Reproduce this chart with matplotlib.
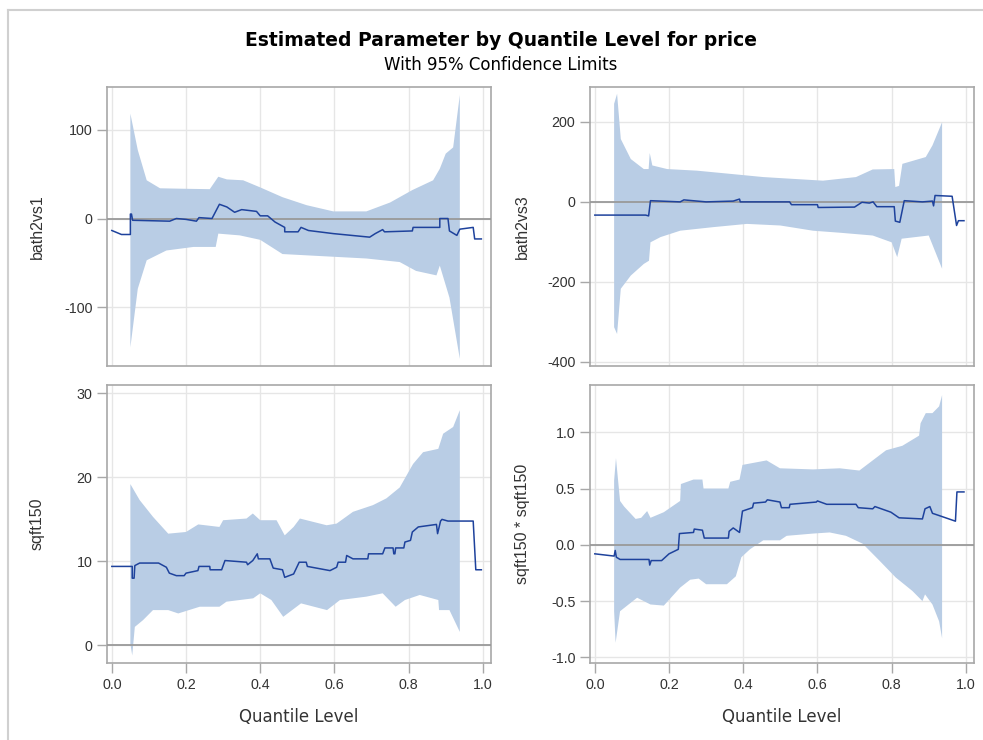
import numpy as np
import matplotlib
matplotlib.use('Agg')
import matplotlib.pyplot as plt
from matplotlib.lines import Line2D
from matplotlib.ticker import FormatStrFormatter

### Quantile process estimates
### est = parameter estimate, up/lo = 95% confidence limits

# bath2vs1
est1_x = [0.0, 0.026, 0.05, 0.05, 0.053, 0.056, 0.156, 0.174, 0.2, 0.228,
          0.235, 0.27, 0.29, 0.31, 0.331, 0.35, 0.39, 0.40, 0.42, 0.44,
          0.466, 0.466, 0.502, 0.51, 0.53, 0.597, 0.695, 0.71, 0.73, 0.735,
          0.81, 0.812, 0.884, 0.884, 0.906, 0.91, 0.93, 0.938, 0.974, 0.978, 0.996]
est1_y = [-13.5, -18, -18, 5, 5, -2, -3, 0, -1, -3,
          1, 0, 16, 13, 7, 10, 8, 3, 3, -4,
          -10, -15, -15, -10, -13.5, -17, -21, -17, -12.5, -15,
          -14, -10, -10, 0, 0, -14, -19, -12, -10, -23, -23]
up1_x = [0.05, 0.07, 0.094, 0.13, 0.192, 0.264, 0.287, 0.31, 0.354, 0.40,
         0.46, 0.525, 0.597, 0.686, 0.75, 0.81, 0.866, 0.884, 0.90, 0.92, 0.938]
up1_y = [118, 77, 43, 34, 33.5, 33, 47, 44, 43, 35,
         24, 15, 8, 8, 18, 32, 43, 56, 73, 80, 139]
lo1_x = [0.05, 0.07, 0.094, 0.147, 0.22, 0.28, 0.287, 0.345, 0.40, 0.46,
         0.55, 0.686, 0.776, 0.82, 0.875, 0.884, 0.91, 0.938]
lo1_y = [-145, -79, -47, -36, -32, -32, -17, -19, -24, -40,
         -42, -45, -49, -59, -64, -53, -89, -158]

# bath2vs3
est2_x = [0.0, 0.137, 0.145, 0.15, 0.23, 0.24, 0.3, 0.373, 0.39, 0.392,
          0.525, 0.53, 0.6, 0.602, 0.70, 0.72, 0.74, 0.75, 0.76, 0.807,
          0.81, 0.822, 0.834, 0.883, 0.91, 0.913, 0.917, 0.963, 0.975, 0.98, 0.995]
est2_y = [-33, -33, -35, 3, 0, 5, 0, 2, 7, 0,
          0, -7, -7, -14, -13, -1, -3, 0, -12, -12,
          -48, -51, 3, 0, 2, -10, 16, 14, -59, -47, -47]
up2_x = [0.052, 0.06, 0.07, 0.097, 0.132, 0.145, 0.148, 0.155, 0.195, 0.275,
         0.365, 0.454, 0.543, 0.615, 0.704, 0.749, 0.807, 0.81, 0.82, 0.829,
         0.892, 0.91, 0.936]
up2_y = [245, 270, 157, 107, 82, 82, 122, 91, 82, 78,
         70, 62, 57, 53, 62, 81, 82, 37, 40, 95,
         112, 141, 199]
lo2_x = [0.052, 0.06, 0.07, 0.097, 0.132, 0.146, 0.15, 0.177, 0.23, 0.32,
         0.41, 0.5, 0.588, 0.66, 0.749, 0.80, 0.815, 0.827, 0.90, 0.936]
lo2_y = [-313, -330, -217, -184, -155, -147, -101, -88, -72, -63,
         -55, -59, -72, -77, -84, -101, -138, -92, -84, -167]

# sqft150
est3_x = [0.0, 0.055, 0.055, 0.06, 0.062, 0.075, 0.126, 0.147, 0.155, 0.174,
          0.195, 0.2, 0.232, 0.235, 0.264, 0.265, 0.296, 0.305, 0.363, 0.366,
          0.38, 0.392, 0.395, 0.426, 0.435, 0.46, 0.466, 0.49, 0.505, 0.524,
          0.527, 0.588, 0.606, 0.61, 0.63, 0.633, 0.65, 0.69, 0.692, 0.73,
          0.736, 0.758, 0.76, 0.763, 0.765, 0.787, 0.79, 0.805, 0.81, 0.826,
          0.875, 0.878, 0.886, 0.89, 0.906, 0.974, 0.981, 0.996]
est3_y = [9.4, 9.4, 8.0, 8.0, 9.5, 9.8, 9.8, 9.3, 8.6, 8.3,
          8.3, 8.6, 8.9, 9.4, 9.4, 9.0, 9.0, 10.1, 9.9, 9.6,
          10.1, 10.9, 10.3, 10.3, 9.2, 9.0, 8.1, 8.5, 9.9, 9.9,
          9.4, 8.9, 9.3, 9.9, 9.9, 10.7, 10.3, 10.3, 10.9, 10.9,
          11.6, 11.6, 10.9, 10.9, 11.6, 11.6, 12.3, 12.5, 13.5, 14.1,
          14.4, 13.3, 14.8, 15.0, 14.8, 14.8, 9.0, 9.0]
up3_x = [0.05, 0.075, 0.111, 0.152, 0.2, 0.233, 0.29, 0.3, 0.363, 0.38,
         0.40, 0.444, 0.466, 0.49, 0.507, 0.579, 0.606, 0.65, 0.704, 0.74,
         0.776, 0.812, 0.839, 0.88, 0.893, 0.92, 0.938]
up3_y = [19.2, 17.3, 15.3, 13.3, 13.5, 14.4, 14.1, 14.9, 15.1, 15.7,
         14.9, 14.9, 13.1, 14.1, 15.1, 14.3, 14.5, 15.9, 16.7, 17.5,
         18.8, 21.6, 23.0, 23.4, 25.2, 26.0, 28.0]
lo3_x = [0.05, 0.055, 0.062, 0.084, 0.111, 0.152, 0.179, 0.237, 0.29, 0.309,
         0.381, 0.40, 0.43, 0.462, 0.51, 0.58, 0.615, 0.686, 0.73, 0.765,
         0.79, 0.83, 0.88, 0.882, 0.91, 0.938]
lo3_y = [0.2, -1.2, 2.2, 3.0, 4.2, 4.2, 3.8, 4.6, 4.6, 5.2,
         5.6, 6.2, 5.4, 3.4, 5.0, 4.2, 5.4, 5.8, 6.2, 4.6,
         5.4, 6.0, 5.4, 4.2, 4.2, 1.6]

# sqft150 * sqft150
est4_x = [0.0, 0.052, 0.055, 0.058, 0.068, 0.146, 0.148, 0.152, 0.18, 0.2,
          0.225, 0.228, 0.266, 0.268, 0.29, 0.295, 0.36, 0.362, 0.373, 0.39,
          0.398, 0.425, 0.428, 0.46, 0.465, 0.499, 0.503, 0.524, 0.526, 0.597,
          0.6, 0.625, 0.704, 0.71, 0.749, 0.755, 0.798, 0.82, 0.883, 0.89,
          0.903, 0.91, 0.928, 0.972, 0.976, 0.995]
est4_y = [-0.08, -0.10, -0.05, -0.11, -0.13, -0.13, -0.18, -0.14, -0.14, -0.08,
          -0.04, 0.10, 0.11, 0.14, 0.13, 0.06, 0.06, 0.12, 0.15, 0.11,
          0.30, 0.33, 0.37, 0.38, 0.40, 0.38, 0.33, 0.33, 0.36, 0.38,
          0.39, 0.36, 0.36, 0.33, 0.32, 0.34, 0.29, 0.24, 0.23, 0.32,
          0.34, 0.28, 0.26, 0.21, 0.47, 0.47]
up4_x = [0.052, 0.057, 0.068, 0.079, 0.11, 0.125, 0.141, 0.15, 0.186, 0.23,
         0.232, 0.266, 0.29, 0.293, 0.36, 0.365, 0.39, 0.398, 0.463, 0.499,
         0.588, 0.66, 0.713, 0.749, 0.785, 0.829, 0.874, 0.878, 0.892, 0.91,
         0.928, 0.936]
up4_y = [0.57, 0.77, 0.39, 0.34, 0.23, 0.24, 0.30, 0.24, 0.29, 0.39,
         0.54, 0.58, 0.58, 0.50, 0.50, 0.56, 0.58, 0.71, 0.75, 0.68,
         0.67, 0.68, 0.66, 0.75, 0.84, 0.88, 0.97, 1.08, 1.17, 1.17,
         1.23, 1.33]
lo4_x = [0.052, 0.056, 0.068, 0.114, 0.15, 0.186, 0.23, 0.257, 0.28, 0.30,
         0.356, 0.38, 0.395, 0.418, 0.454, 0.499, 0.517, 0.588, 0.633, 0.677,
         0.722, 0.767, 0.811, 0.856, 0.883, 0.89, 0.91, 0.928, 0.936]
lo4_y = [-0.59, -0.87, -0.59, -0.47, -0.53, -0.54, -0.38, -0.31, -0.30, -0.35,
         -0.35, -0.28, -0.11, -0.04, 0.04, 0.04, 0.08, 0.10, 0.11, 0.08,
         0.01, -0.14, -0.29, -0.41, -0.50, -0.44, -0.53, -0.68, -0.83]

labels = ['bath2vs1', 'bath2vs3', 'sqft150', 'sqft150 * sqft150']
x_ticks = [0.0, 0.2, 0.4, 0.6, 0.8, 1.0]
y_ticks = [[-100, 0, 100], [-400, -200, 0, 200], [0, 10, 20, 30], [-1.0, -0.5, 0.0, 0.5, 1.0]]
y_lims = [(-166, 148), (-410, 287), (-2.1, 31), (-1.05, 1.42)]

panels = [(est1_x, est1_y, up1_x, up1_y, lo1_x, lo1_y),
          (est2_x, est2_y, up2_x, up2_y, lo2_x, lo2_y),
          (est3_x, est3_y, up3_x, up3_y, lo3_x, lo3_y),
          (est4_x, est4_y, up4_x, up4_y, lo4_x, lo4_y)]

BAND = '#B9CDE5'
LINE = '#1E429C'
SPINE = '#A8A8A8'
GRID = '#E6E6E6'
TXT = '#333333'

plt.rcParams['font.family'] = ['Liberation Sans', 'DejaVu Sans']
WIDE = ['DejaVu Sans']   # the SAS label font runs wider than Arial

fig = plt.figure(figsize=(9.83, 7.4), dpi=100)
W, H = 983.0, 740.0

# axes boxes in pixels: left, top, right, bottom
boxes = [(107, 87, 491, 366), (590, 87, 974, 366),
         (107, 385, 491, 663), (590, 385, 974, 663)]

# faint outer frame like the SAS output
fig.add_artist(Line2D([8 / W, 1.0], [1 - 10 / H, 1 - 10 / H], color='#D0D0D0', lw=1.5))
fig.add_artist(Line2D([8 / W, 8 / W], [0.0, 1 - 10 / H], color='#D0D0D0', lw=1.5))

for i, (ex, ey, ux, uy, lx, ly) in enumerate(panels):
    l, t, r, b = boxes[i]
    ax = fig.add_axes([l / W, 1 - b / H, (r - l) / W, (b - t) / H])
    ax.set_xlim(-0.013, 1.022)
    ax.set_ylim(*y_lims[i])
    ax.set_xticks(x_ticks)
    ax.set_yticks(y_ticks[i])
    ax.grid(True, color=GRID, lw=1)
    ax.set_axisbelow(True)

    bx = np.concatenate([ux, lx[::-1]])
    by = np.concatenate([uy, ly[::-1]])
    ax.fill(bx, by, color=BAND, lw=0, zorder=2)
    ax.axhline(0, color='#999999', lw=1.3, zorder=3)
    ax.plot(ex, ey, color=LINE, lw=1.1, zorder=4)

    for s in ax.spines.values():
        s.set_color(SPINE)
        s.set_linewidth(1.2)
    ax.tick_params(colors=SPINE, labelcolor=TXT, labelsize=10.3, length=7, width=1)
    if i == 3:
        ax.yaxis.set_major_formatter(FormatStrFormatter('%.1f'))
    elif i == 0 or i == 1:
        ax.yaxis.set_major_formatter(FormatStrFormatter('%d'))
    if i < 2:
        ax.tick_params(axis='x', bottom=False, labelbottom=False)
    else:
        ax.xaxis.set_major_formatter(FormatStrFormatter('%.1f'))
        ax.set_xlabel('Quantile Level', fontsize=12, color=TXT, family=WIDE, labelpad=12)
    ax.set_ylabel(labels[i], fontsize=11.5, color=TXT)
    ax.yaxis.set_label_coords((45 - 107) / 384.0 if i % 2 == 0 else (530 - 590) / 384.0, 0.5)

fig.text(501 / W, 1 - 41 / H, 'Estimated Parameter by Quantile Level for price',
         ha='center', va='center', fontsize=13.5, fontweight='bold', color='black', family=WIDE)
fig.text(501 / W, 1 - 65 / H, 'With 95% Confidence Limits',
         ha='center', va='center', fontsize=12, color='black', family=WIDE)

fig.savefig('out.png', dpi=100)
